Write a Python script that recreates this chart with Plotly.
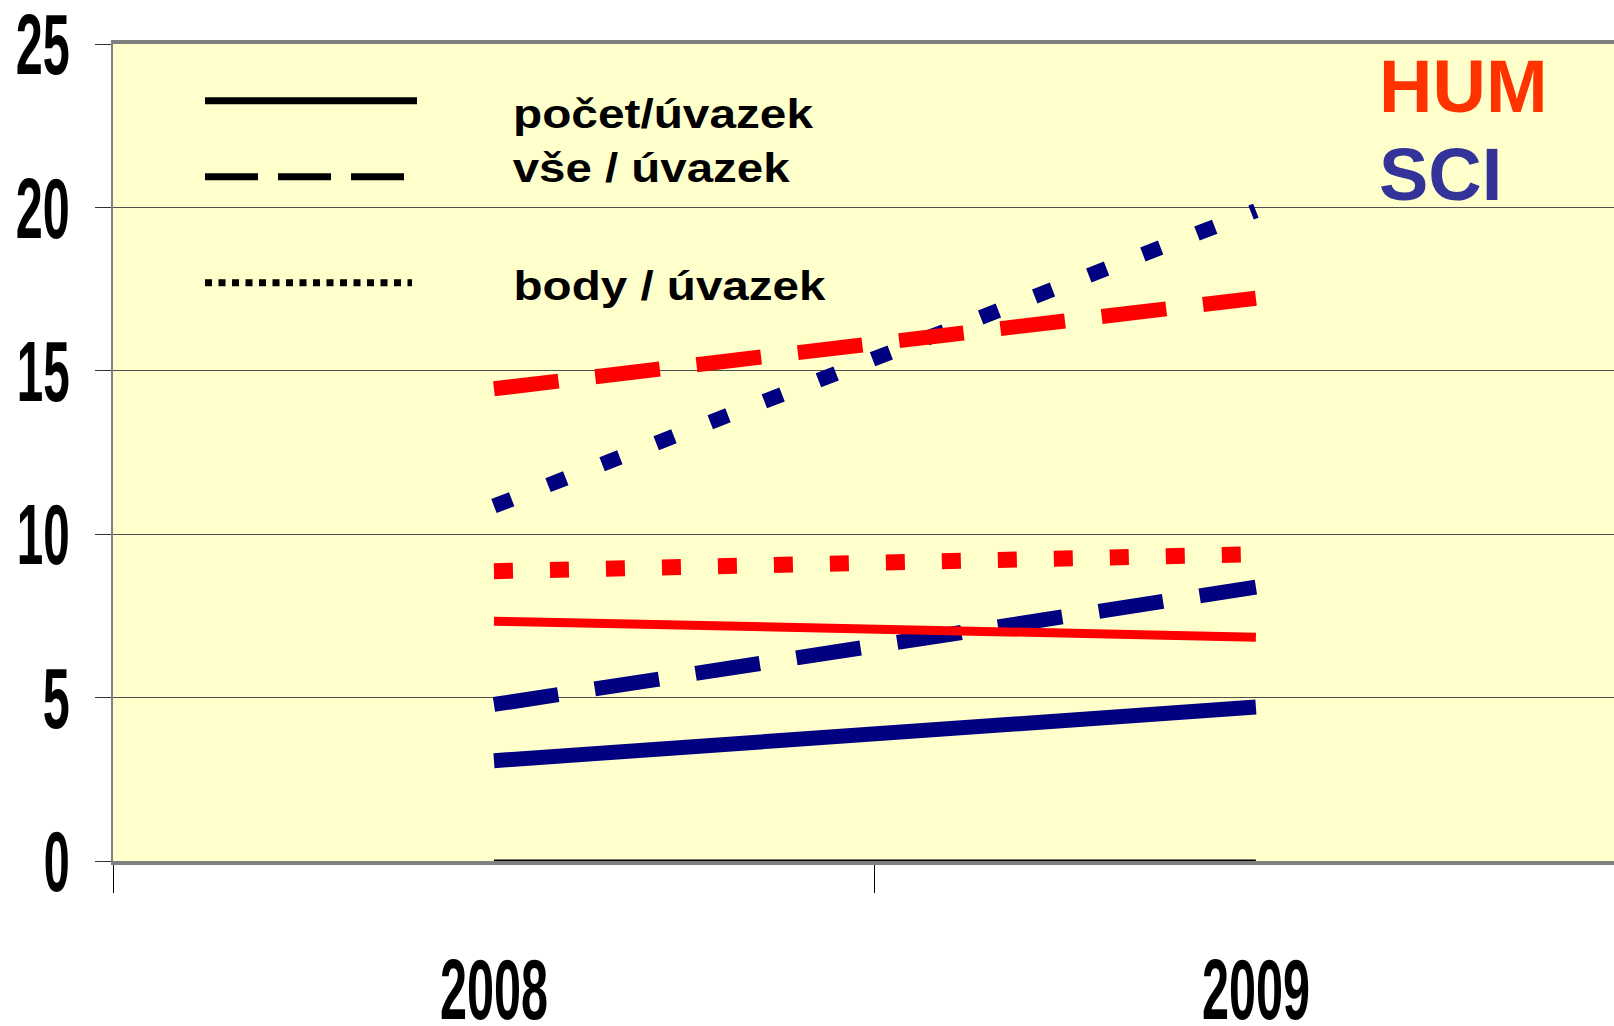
import plotly.graph_objects as go

# --- data ---
years = ["2008", "2009"]

sci_pocet = [3.07, 4.71]     # počet/úvazek, SCI
hum_pocet = [7.34, 6.85]     # počet/úvazek, HUM
sci_vse = [4.79, 8.38]       # vše / úvazek, SCI
hum_vse = [14.45, 17.22]     # vše / úvazek, HUM
sci_body = [10.86, 19.9]     # body / úvazek, SCI
hum_body = [8.87, 9.39]      # body / úvazek, HUM
legend_base = [0, 0]         # black key series, sits on the x axis

y_ticks = [0, 5, 10, 15, 20, 25]

NAVY = "#000080"
RED = "#FF0000"
FONT = "Liberation Sans, Arial, sans-serif"

W, H = 1614, 1026
L, R, T, B = 113, 0, 44, 165
PW, PH = W - L - R, H - T - B


def px(x):
    return (x - L) / PW


def py(y):
    return (H - B - y) / PH


fig = go.Figure()

series = [
    (sci_pocet, NAVY, "solid", 15, "SCI počet/úvazek"),
    (sci_vse, NAVY, "65px,37px", 15, "SCI vše / úvazek"),
    (sci_body, NAVY, "19px,39px", 15, "SCI body / úvazek"),
    (hum_pocet, RED, "solid", 9, "HUM počet/úvazek"),
    (hum_vse, RED, "65px,37px", 15, "HUM vše / úvazek"),
    (hum_body, RED, "19px,37px", 16, "HUM body / úvazek"),
    (legend_base, "black", "solid", 3, "key"),
]
for vals, color, dash, width, name in series:
    fig.add_trace(go.Scatter(
        x=years, y=vals, mode="lines", name=name,
        line=dict(color=color, dash=dash, width=width),
        showlegend=False, hoverinfo="skip",
    ))

# hand-drawn key in the upper left of the plot
key = [(100.7, 417, "solid"), (176.7, 405, "53px,20px"), (282.7, 412, "7px,6.5px")]
for yy, x1, dash in key:
    fig.add_shape(type="line", xref="paper", yref="paper",
                  x0=px(205), x1=px(x1), y0=py(yy), y1=py(yy),
                  line=dict(color="black", width=7, dash=dash))

labels = [("počet/úvazek", 663, 114), ("vše / úvazek", 651, 168), ("body / úvazek", 669, 286)]
for text, xx, yy in labels:
    fig.add_annotation(text=text, xref="paper", yref="paper", x=px(xx), y=py(yy),
                       xanchor="center", yanchor="middle", showarrow=False,
                       font=dict(family=FONT, size=40, color="black", weight="bold"))

for text, color, yy in [("HUM", "#FF3300", 86), ("SCI", "#333399", 175)]:
    fig.add_annotation(text=text, xref="paper", yref="paper", x=px(1377), y=py(yy),
                       xanchor="left", yanchor="middle", showarrow=False,
                       font=dict(family=FONT, size=74, color=color, weight="bold"))

tick_font = dict(family=FONT, size=86, color="black", weight="bold")

fig.update_xaxes(
    type="category", range=[-0.5, 1.47], automargin=False,
    tickson="boundaries", ticks="outside", ticklen=28, tickwidth=1, tickcolor="black",
    showline=True, linecolor="#808080", linewidth=4, mirror=True,
    showgrid=False, tickfont=tick_font, ticklabelstandoff=51,
    ticklabeloverflow="allow",
)
fig.update_yaxes(
    range=[0, 25], tickvals=y_ticks, automargin=False,
    ticks="outside", ticklen=16, tickwidth=1, tickcolor="#333333",
    showline=True, linecolor="#808080", linewidth=2,
    showgrid=True, gridcolor="#505050", gridwidth=1, zeroline=False,
    tickfont=tick_font, ticklabelstandoff=8, ticklabeloverflow="allow",
)

fig.update_layout(
    width=W, height=H,
    margin=dict(l=L, r=R, t=T, b=B),
    paper_bgcolor="white", plot_bgcolor="#FFFFCC",
    showlegend=False,
)

# squeeze the tall condensed digits / widen key labels like the original slide,
# keeping each label's anchor point (right edge for y ticks, centre otherwise)
post = """
document.body.style.margin = '0';
var widths = {'0': 26, '5': 27, '10': 53, '15': 53, '20': 54, '25': 54,
              '2008': 108, '2009': 108,
              'počet/úvazek': 300, 'vše / úvazek': 277, 'body / úvazek': 312};
document.querySelectorAll('.xtick text, .ytick text, .annotation-text').forEach(function (t) {
    var w = widths[t.textContent];
    if (!w) return;
    var b0 = t.getBBox();
    var isY = t.closest('.ytick') !== null;
    var left = isY ? b0.x + b0.width - w : b0.x + b0.width / 2 - w / 2;
    t.setAttribute('text-anchor', 'start');
    t.style.textAnchor = 'start';
    t.setAttribute('x', left);
    t.setAttribute('textLength', w);
    t.setAttribute('lengthAdjust', 'spacingAndGlyphs');
});
"""

fig.write_html("out.html", post_script=post, config={"displayModeBar": False})
